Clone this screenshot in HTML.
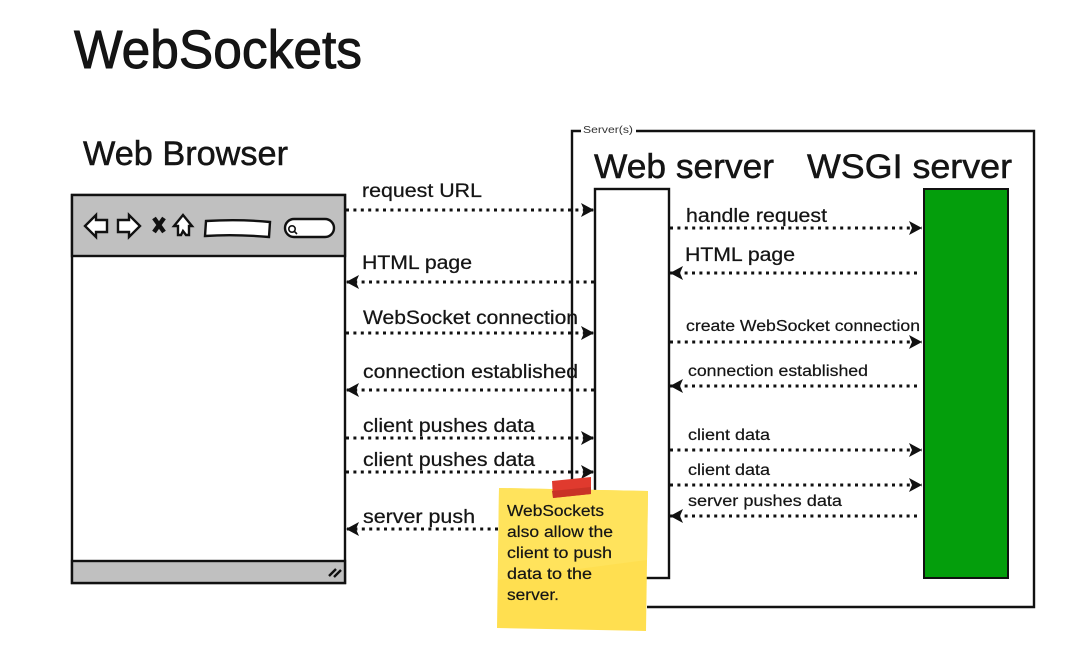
<!DOCTYPE html>
<html><head><meta charset="utf-8"><style>
html,body{margin:0;padding:0;background:#fff;width:1080px;height:653px;overflow:hidden}
svg{display:block}
text{font-family:"Liberation Sans","DejaVu Sans",sans-serif;fill:#151515}
.c{stroke:#111;stroke-width:2.4}
.o{fill:none}
.w{fill:#fff}
.g{fill:#c0c0c0}
.d{fill:none;stroke:#111;stroke-width:3;stroke-dasharray:3 4.4}
.a{fill:#111}
.l{font-size:19px;stroke:#151515;stroke-width:.25px}
.s{font-size:15.5px;stroke:#151515;stroke-width:.2px}
.n{font-size:15.5px;stroke:#151515;stroke-width:.2px}
.h{stroke:#111;stroke-width:.9px}
</style></head><body>
<svg width="1080" height="653" viewBox="0 0 1080 653" xmlns="http://www.w3.org/2000/svg">
<defs>
<marker id="r" markerUnits="userSpaceOnUse" markerWidth="16" markerHeight="18" refX="14" refY="9" orient="auto"><path d="M1 2 L14 9 L1 16 L4 9Z" class="a"/></marker>
</defs>
<text class="h" x="74" y="68" font-size="54" textLength="288" lengthAdjust="spacingAndGlyphs">WebSockets</text>
<text class="h" style="stroke-width:.5px" x="83" y="165" font-size="34" textLength="205" lengthAdjust="spacingAndGlyphs">Web Browser</text>

<!-- Browser -->
<rect x="72" y="195" width="273" height="388" class="c w"/>
<rect x="72" y="195" width="273" height="61" class="c g"/>
<rect x="72" y="561" width="273" height="22" class="c g"/>
<path d="M329 576 L336 569 M334 577 L341 570" class="c o"/>
<path d="M85 226 L96 215 L96 220 L107 220 L107 232 L96 232 L96 237Z" class="c w"/>
<path d="M118 220 L129 220 L129 215 L140 226 L129 237 L129 232 L118 232Z" class="c w"/>
<path d="M154 218 L164 232 M164 218 L154 232" fill="none" stroke="#111" stroke-width="4.5"/>
<path d="M183 215 L174 226 L178 226 L178 235 L181 235 L183 231 L186 235 L189 235 L189 226 L192 226Z" class="c w"/>
<path d="M206 221 Q240 219 270 222 L269 237 Q235 234 205 236Z" class="c w"/>
<rect x="285" y="219" width="49" height="18" rx="9" class="c w"/>
<circle cx="292" cy="229" r="3.2" fill="none" stroke="#111" stroke-width="1.6"/>
<path d="M294 231 L297 234" stroke="#111" stroke-width="1.6"/>

<!-- Servers frame -->
<path d="M581 131 L572 131 L572 488 M636 131 L1034 131 L1034 607 L647 607" class="c o"/>
<text x="583" y="133" font-size="10" style="fill:#333" textLength="50" lengthAdjust="spacingAndGlyphs">Server(s)</text>
<text class="h" style="stroke-width:.5px" x="594" y="178" font-size="34" textLength="180" lengthAdjust="spacingAndGlyphs">Web server</text>
<text class="h" style="stroke-width:.5px" x="807" y="178" font-size="34" textLength="205" lengthAdjust="spacingAndGlyphs">WSGI server</text>
<rect x="595" y="189" width="74" height="389" class="c w"/>
<rect x="924" y="189" width="84" height="389" fill="#049e0c" stroke="#111" stroke-width="2"/>

<!-- Left connectors -->
<g class="d">
<path d="M346 210 L594 210" marker-end="url(#r)"/>
<path d="M594 282 L346 282" marker-end="url(#r)"/>
<path d="M346 333 L594 333" marker-end="url(#r)"/>
<path d="M594 390 L346 390" marker-end="url(#r)"/>
<path d="M346 438 L594 438" marker-end="url(#r)"/>
<path d="M346 472 L594 472" marker-end="url(#r)"/>
<path d="M498 529 L346 529" marker-end="url(#r)"/>
</g>
<!-- Right connectors -->
<g class="d">
<path d="M670 228 L922 228" marker-end="url(#r)"/>
<path d="M917 273 L670 273" marker-end="url(#r)"/>
<path d="M670 342 L922 342" marker-end="url(#r)"/>
<path d="M917 386 L670 386" marker-end="url(#r)"/>
<path d="M670 450 L922 450" marker-end="url(#r)"/>
<path d="M670 485 L922 485" marker-end="url(#r)"/>
<path d="M917 516 L670 516" marker-end="url(#r)"/>
</g>

<!-- Left labels -->
<text class="l" x="362" y="197" textLength="120" lengthAdjust="spacingAndGlyphs">request URL</text>
<text class="l" x="362" y="269" textLength="110" lengthAdjust="spacingAndGlyphs">HTML page</text>
<text class="l" x="363" y="324" textLength="215" lengthAdjust="spacingAndGlyphs">WebSocket connection</text>
<text class="l" x="363" y="378" textLength="215" lengthAdjust="spacingAndGlyphs">connection established</text>
<text class="l" x="363" y="432" textLength="172" lengthAdjust="spacingAndGlyphs">client pushes data</text>
<text class="l" x="363" y="466" textLength="172" lengthAdjust="spacingAndGlyphs">client pushes data</text>
<text class="l" x="363" y="523" textLength="112" lengthAdjust="spacingAndGlyphs">server push</text>

<!-- Right labels -->
<text class="l" x="686" y="222" textLength="141" lengthAdjust="spacingAndGlyphs">handle request</text>
<text class="l" x="685" y="261" textLength="110" lengthAdjust="spacingAndGlyphs">HTML page</text>
<text class="s" x="686" y="331" textLength="234" lengthAdjust="spacingAndGlyphs">create WebSocket connection</text>
<text class="s" x="688" y="376" textLength="180" lengthAdjust="spacingAndGlyphs">connection established</text>
<text class="s" x="688" y="440" textLength="82" lengthAdjust="spacingAndGlyphs">client data</text>
<text class="s" x="688" y="475" textLength="82" lengthAdjust="spacingAndGlyphs">client data</text>
<text class="s" x="688" y="506" textLength="154" lengthAdjust="spacingAndGlyphs">server pushes data</text>

<!-- Sticky note -->
<path d="M499 488 L648 491 L646 631 L497 628Z" fill="#ffdf50"/>
<path d="M499 488 L648 491 L647 560 Q570 570 498 580Z" fill="#ffe35c"/>
<path d="M552 481 L591 477 L591 494 L553 498Z" fill="#e03a2e"/>
<path d="M552 491 L591 487 L591 494 L553 498Z" fill="#c93226"/>
<text class="n" x="507" y="516" textLength="97" lengthAdjust="spacingAndGlyphs">WebSockets</text>
<text class="n" x="507" y="537" textLength="106" lengthAdjust="spacingAndGlyphs">also allow the</text>
<text class="n" x="507" y="558" textLength="105" lengthAdjust="spacingAndGlyphs">client to push</text>
<text class="n" x="507" y="579" textLength="85" lengthAdjust="spacingAndGlyphs">data to the</text>
<text class="n" x="507" y="600" textLength="52" lengthAdjust="spacingAndGlyphs">server.</text>
</svg>
</body></html>
